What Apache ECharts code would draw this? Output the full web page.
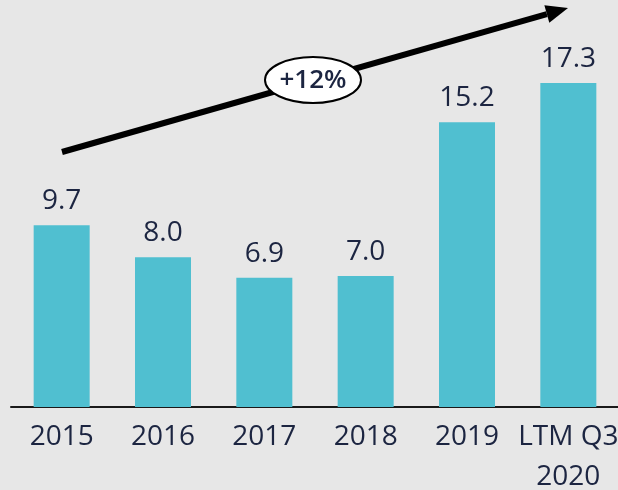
<!DOCTYPE html>
<html>
<head>
<meta charset="utf-8">
<script src="https://cdn.jsdelivr.net/npm/echarts@6/dist/echarts.min.js"></script>
<style>
  html,body{margin:0;padding:0;background:#e7e7e7;}
  #chart{width:618px;height:490px;}
</style>
</head>
<body>
<div id="chart"></div>
<script>
var categories = ['2015', '2016', '2017', '2018', '2019', 'LTM Q3\n2020']
var revenue = [9.7, 8.0, 6.9, 7.0, 15.2, 17.3]
var growthLabel = '+12%'

var chart = echarts.init(document.getElementById('chart'))

// arrow geometry (annotation only)
var ax1 = 62, ay1 = 152, ax2 = 568, ay2 = 8
var ang = Math.atan2(ay2 - ay1, ax2 - ax1)
var headLen = 22, headHalf = 9
var bx = ax2 - headLen * Math.cos(ang), by = ay2 - headLen * Math.sin(ang)
var px = -Math.sin(ang) * headHalf, py = Math.cos(ang) * headHalf

var option = {
  backgroundColor: '#e7e7e7',
  animation: false,
  grid: { left: 11, right: -1, top: 0, bottom: 83, outerBoundsMode: 'none', containLabel: false },
  xAxis: {
    type: 'category',
    data: categories,
    axisLine: { lineStyle: { color: '#1a1a1a', width: 2 } },
    axisTick: { show: false },
    axisLabel: {
      color: '#1c2541',
      fontSize: 28,
      fontFamily: 'Open Sans',
      margin: 10,
      lineHeight: 40,
      verticalAlign: 'top',
      interval: 0
    }
  },
  yAxis: {
    type: 'value',
    min: 0,
    max: 21.73,
    show: false,
    splitLine: { show: false }
  },
  series: [{
    type: 'bar',
    data: revenue,
    barWidth: 56,
    itemStyle: { color: '#50bfd0' },
    label: {
      show: true,
      position: 'top',
      distance: 5,
      color: '#1c2541',
      fontSize: 28,
      lineHeight: 38,
      fontFamily: 'Open Sans',
      formatter: function (p) { return p.value.toFixed(1) }
    }
  }],
  graphic: [
    {
      type: 'line',
      shape: { x1: ax1, y1: ay1, x2: bx, y2: by },
      style: { stroke: '#000', lineWidth: 6 }
    },
    {
      type: 'polygon',
      shape: { points: [[ax2, ay2], [bx + px, by + py], [bx - px, by - py]] },
      style: { fill: '#000' }
    },
    {
      type: 'ellipse',
      shape: { cx: 313, cy: 80, rx: 48, ry: 23 },
      style: { fill: '#fff', stroke: '#000', lineWidth: 2 }
    },
    {
      type: 'text',
      x: 313,
      y: 81,
      style: {
        text: growthLabel,
        fill: '#1c2541',
        fontSize: 26,
        fontWeight: 600,
        fontFamily: 'Open Sans',
        align: 'center',
        verticalAlign: 'middle'
      }
    }
  ]
}

chart.setOption(option)
</script>
</body>
</html>
